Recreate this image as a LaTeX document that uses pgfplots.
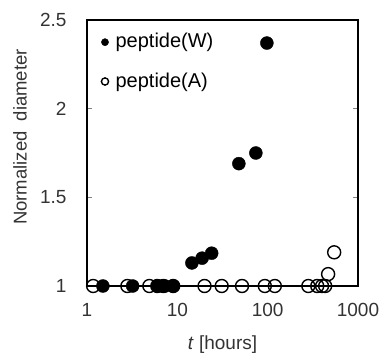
\documentclass[border=0pt]{standalone}
\usepackage{pgfplots}
\pgfplotsset{compat=1.18}
\usepackage{fontspec}
\setmainfont{Liberation Sans}
\begin{document}
\fontsize{19bp}{22bp}\selectfont
\begin{tikzpicture}
\begin{axis}[
  name=ax,
  scale only axis, width=271bp, height=266bp,
  xmode=log, xmin=1, xmax=1000, ymin=1, ymax=2.5,
  xtick={1,10,100,1000}, xticklabels={1,10,100,1000},
  ytick={1,1.5,2,2.5}, yticklabels={1,1.5,2,2.5},
  minor tick num=0,
  xminorticks=false,
  tick align=inside, major tick length=5bp,
  xtick style={draw=none},
  ytick style={line width=1.2bp},
  axis line style={line width=1.6bp},
  clip=false,
  ticklabel style={font=\fontsize{19bp}{22bp}\selectfont, color=black!80},
  yticklabel style={xshift=-14bp},
  xticklabel style={yshift=-11bp},
  ylabel={Normalized\ \ diameter},
  ylabel style={at={(axis description cs:-0.247,0.56)}, anchor=center, font=\fontsize{18.5bp}{21bp}\selectfont, color=black!80},
  xlabel={\textit{t} [hours]},
  xlabel style={at={(axis description cs:0.5,-0.222)}, anchor=center, font=\fontsize{19bp}{22bp}\selectfont, color=black!80},
  legend style={at={(axis description cs:0.045,0.965)}, anchor=north west, draw=none, fill=none,
    font=\fontsize{20bp}{23bp}\selectfont, row sep=18bp, column sep=5bp, inner sep=2bp},
  legend cell align=left,
  legend image code/.code={\draw[#1] plot coordinates {(4bp,0bp)};},
]
\addlegendimage{only marks, mark=*, mark size=3.6bp, black}
\addlegendentry{peptide(W)}
\addlegendimage{only marks, mark=o, mark size=3.6bp, line width=1.4bp, black}
\addlegendentry{peptide(A)}
% peptide(A): open circles
\addplot[forget plot, only marks, mark=o, mark size=6.5bp, line width=1.4bp, black] coordinates {
(1.17,1) (2.8,1) (4.9,1) (6,1) (7,1) (9,1) (20,1) (31,1) (52,1) (93,1) (120,1)
(282,1) (354,1) (400,1) (433,1) (467,1.067) (545,1.19)
};
% peptide(W): filled circles
\addplot[forget plot, only marks, mark=*, mark size=6.5bp, black] coordinates {
(1.5,1) (3.2,1) (6.1,1) (7.3,1) (9,1) (14.5,1.13) (18.8,1.157) (24,1.185) (48,1.69) (74,1.75) (98,2.37)
};
\end{axis}
\path (ax.south west) ++(-87bp,-77bp) rectangle ++(386bp,363bp);
\end{tikzpicture}
\end{document}
